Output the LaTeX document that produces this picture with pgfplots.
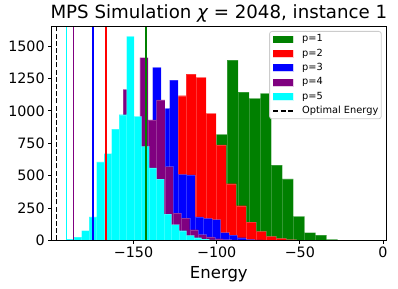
\documentclass[border=0pt]{standalone}
\usepackage{fontspec}
\setmainfont{DejaVu Sans}
\usepackage{pgfplots}
\pgfplotsset{compat=1.18}
\definecolor{mgreen}{RGB}{0,128,0}
\definecolor{mpurple}{RGB}{128,0,128}
\definecolor{mcyan}{RGB}{0,255,255}
\definecolor{mred}{RGB}{255,0,0}
\definecolor{mblue}{RGB}{0,0,255}
\pgfplotsset{hist/.style={ybar interval, fill=#1, fill opacity=1, draw=white, draw opacity=0.2, line width=0.35bp,
  legend image code/.code={\fill[#1, sharp corners] (0bp,-3.4bp) rectangle (20bp,3.4bp);}}}
\begin{document}
\begin{tikzpicture}
\begin{axis}[name=ax, scale only axis, width=334.3bp, height=213.6bp,
  xmin=-199.2, xmax=1.8, ymin=0, ymax=1650,
  xtick={-150,-100,-50,0}, xticklabels={−150,−100,−50,0},
  ytick={0,250,500,750,1000,1250,1500}, yticklabels={0,250,500,750,1000,1250,1500},
  tick align=outside, xtick pos=bottom, ytick pos=left,
  major tick length=3.5bp, tick style={black, line width=0.8bp},
  axis line style={line width=0.8bp}, axis on top,
  ticklabel style={font=\fontsize{14.3bp}{16bp}\selectfont},
  title={MPS Simulation {\itshape χ} = 2048, instance 1},
  every axis title/.style={at={(0.5,1)}, anchor=base, yshift=8bp, font=\fontsize{18.2bp}{20bp}\selectfont, inner sep=0pt},
  xlabel={Energy},
  xlabel style={at={(axis description cs:0.5,0)}, anchor=base, yshift=-37.7bp, font=\fontsize{16.5bp}{18bp}\selectfont, inner sep=0pt},
  legend cell align=left,
  legend style={at={(1,1)}, anchor=north east, xshift=-4.3bp, yshift=-4.3bp,
    font=\fontsize{9.8bp}{11bp}\selectfont, draw=black!20, fill=white,
    rounded corners=2.5bp, line width=0.8bp, inner xsep=3bp, inner ysep=3bp,
    nodes={inner sep=0pt, text height=7.2bp, text depth=2.2bp, sharp corners},
    row sep=5bp, column sep=8bp},
]
% p=1
\addplot[hist=mgreen] coordinates {
(-140.3,5) (-133.65,20) (-127.0,60) (-120.35,150) (-113.7,320) (-107.05,560)
(-100.4,819) (-93.75,1392) (-87.1,1145) (-80.45,1097) (-73.8,1135) (-67.15,580)
(-60.5,475) (-53.85,185) (-47.2,60) (-40.55,40) (-33.9,8) (-27.25,0)};
\addlegendentry{p=1}
% p=2
\addplot[hist=mred] coordinates {
(-166.4,3) (-160.39,10) (-154.38,30) (-148.37,80) (-142.36,180) (-136.35,380)
(-130.34,700) (-124.33,1117) (-118.32,1284) (-112.31,1258) (-106.3,981) (-100.29,737)
(-94.28,437) (-88.27,267) (-82.26,141) (-76.25,69) (-70.24,31) (-64.23,15)
(-58.22,5) (-52.21,2) (-46.2,0)};
\addlegendentry{p=2}
% p=3
\addplot[hist=mblue] coordinates {
(-174.2,3) (-169.1,10) (-164.0,30) (-158.9,80) (-153.8,200) (-148.7,400)
(-143.6,800) (-138.5,1335) (-133.4,1020) (-128.3,1238) (-123.2,510) (-118.1,505)
(-113.0,180) (-107.9,170) (-102.8,160) (-97.7,60) (-92.6,40) (-87.5,20)
(-82.4,8) (-77.3,3) (-72.2,0)};
\addlegendentry{p=3}
% p=4
\addplot[hist=mpurple] coordinates {
(-186.2,5) (-181.2,15) (-176.2,45) (-171.2,130) (-166.2,300) (-161.2,600)
(-156.2,1166) (-151.2,930) (-146.2,1412) (-141.2,930) (-136.2,1084) (-131.2,570)
(-126.2,210) (-121.2,172) (-116.2,82) (-111.2,44) (-106.2,26) (-101.2,12)
(-96.2,6) (-91.2,3) (-86.2,0)};
\addlegendentry{p=4}
% p=5
\addplot[hist=mcyan] coordinates {
(-190.2,10) (-185.7,25) (-181.19,75) (-176.69,180) (-172.18,605) (-167.68,670)
(-163.17,858) (-158.67,970) (-154.16,1575) (-149.66,958) (-145.15,725) (-140.65,560)
(-136.14,473) (-131.64,203) (-127.13,122) (-122.63,74) (-118.12,38) (-113.62,20)
(-109.11,10) (-104.61,4) (-100.1,0)};
\addlegendentry{p=5}
% minimum-energy lines
\addplot[mgreen, line width=1.6bp, forget plot] coordinates {(-142.5,0) (-142.5,1650)};
\addplot[mred, line width=1.6bp, forget plot] coordinates {(-166.4,0) (-166.4,1650)};
\addplot[mblue, line width=1.6bp, forget plot] coordinates {(-174.2,0) (-174.2,1650)};
\addplot[mpurple, line width=1.6bp, forget plot] coordinates {(-186.2,0) (-186.2,1650)};
\addplot[mcyan, line width=1.6bp, forget plot] coordinates {(-190.2,0) (-190.2,1650)};
\addplot[black, line width=1.5bp, dash pattern=on 5bp off 2.2bp,
  legend image code/.code={\draw[black, line width=1.5bp, dash pattern=on 5bp off 2.2bp] (0bp,0bp) -- (20bp,0bp);}]
  coordinates {(-196.2,0) (-196.2,1650)};
\addlegendentry{Optimal Energy}
\end{axis}
\pgfresetboundingbox
\path ([shift={(-51.7bp,-48.7bp)}]ax.south west) rectangle ([shift={(12bp,26.7bp)}]ax.north east);
\end{tikzpicture}
\end{document}
